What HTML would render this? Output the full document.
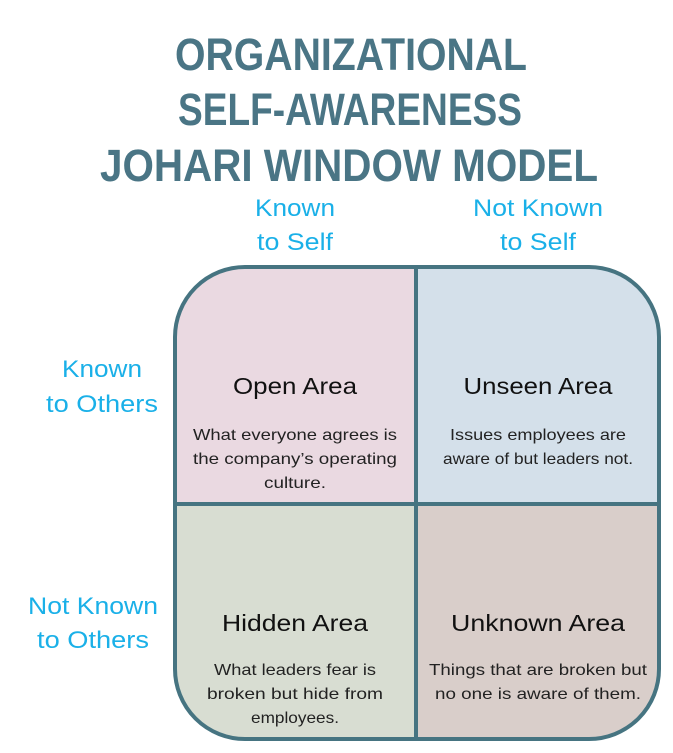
<!DOCTYPE html>
<html><head><meta charset="utf-8"><style>
html,body{margin:0;padding:0;background:#fff;width:673px;height:753px;overflow:hidden}
svg{display:block}
text{font-family:"Liberation Sans",sans-serif}
</style></head><body>
<svg width="673" height="753" viewBox="0 0 673 753">
<defs><clipPath id="c"><rect x="175" y="267" width="484" height="472" rx="70" ry="70"/></clipPath></defs>
<g fill="#4a7585" font-weight="bold" font-size="45" text-anchor="middle">
<text x="351" y="70" textLength="352" lengthAdjust="spacingAndGlyphs">ORGANIZATIONAL</text>
<text x="350" y="125" textLength="344" lengthAdjust="spacingAndGlyphs">SELF-AWARENESS</text>
<text x="349" y="181" textLength="498" lengthAdjust="spacingAndGlyphs">JOHARI WINDOW MODEL</text>
</g>
<g fill="#1ab0e8" font-size="24" text-anchor="middle">
<text x="295" y="216" textLength="80" lengthAdjust="spacingAndGlyphs">Known</text>
<text x="295" y="250" textLength="76" lengthAdjust="spacingAndGlyphs">to Self</text>
<text x="538" y="216" textLength="130" lengthAdjust="spacingAndGlyphs">Not Known</text>
<text x="538" y="250" textLength="76" lengthAdjust="spacingAndGlyphs">to Self</text>
<text x="102" y="377" textLength="80" lengthAdjust="spacingAndGlyphs">Known</text>
<text x="102" y="412" textLength="112" lengthAdjust="spacingAndGlyphs">to Others</text>
<text x="93" y="614" textLength="130" lengthAdjust="spacingAndGlyphs">Not Known</text>
<text x="93" y="648" textLength="112" lengthAdjust="spacingAndGlyphs">to Others</text>
</g>
<g clip-path="url(#c)">
<rect x="175" y="267" width="241" height="237" fill="#ead9e1"/>
<rect x="416" y="267" width="243" height="237" fill="#d4e0ea"/>
<rect x="175" y="504" width="241" height="235" fill="#d8ddd2"/>
<rect x="416" y="504" width="243" height="235" fill="#d9ceca"/>
</g>
<rect x="175" y="267" width="484" height="472" rx="70" ry="70" fill="none" stroke="#467481" stroke-width="4"/>
<line x1="416" y1="267" x2="416" y2="739" stroke="#467481" stroke-width="4"/>
<line x1="175" y1="504" x2="659" y2="504" stroke="#467481" stroke-width="4"/>
<g fill="#111" font-size="23" text-anchor="middle">
<text x="295" y="394" textLength="124" lengthAdjust="spacingAndGlyphs">Open Area</text>
<text x="538" y="394" textLength="149" lengthAdjust="spacingAndGlyphs">Unseen Area</text>
<text x="295" y="631" textLength="146" lengthAdjust="spacingAndGlyphs">Hidden Area</text>
<text x="538" y="631" textLength="174" lengthAdjust="spacingAndGlyphs">Unknown Area</text>
</g>
<g fill="#222" font-size="16" text-anchor="middle">
<text x="295" y="440" textLength="204" lengthAdjust="spacingAndGlyphs">What everyone agrees is</text>
<text x="295" y="464" textLength="204" lengthAdjust="spacingAndGlyphs">the company’s operating</text>
<text x="295" y="488" textLength="62" lengthAdjust="spacingAndGlyphs">culture.</text>
<text x="538" y="440" textLength="176" lengthAdjust="spacingAndGlyphs">Issues employees are</text>
<text x="538" y="464" textLength="190" lengthAdjust="spacingAndGlyphs">aware of but leaders not.</text>
<text x="295" y="675" textLength="162" lengthAdjust="spacingAndGlyphs">What leaders fear is</text>
<text x="295" y="699" textLength="176" lengthAdjust="spacingAndGlyphs">broken but hide from</text>
<text x="295" y="723" textLength="88" lengthAdjust="spacingAndGlyphs">employees.</text>
<text x="538" y="675" textLength="218" lengthAdjust="spacingAndGlyphs">Things that are broken but</text>
<text x="538" y="699" textLength="206" lengthAdjust="spacingAndGlyphs">no one is aware of them.</text>
</g>
</svg>
</body></html>
